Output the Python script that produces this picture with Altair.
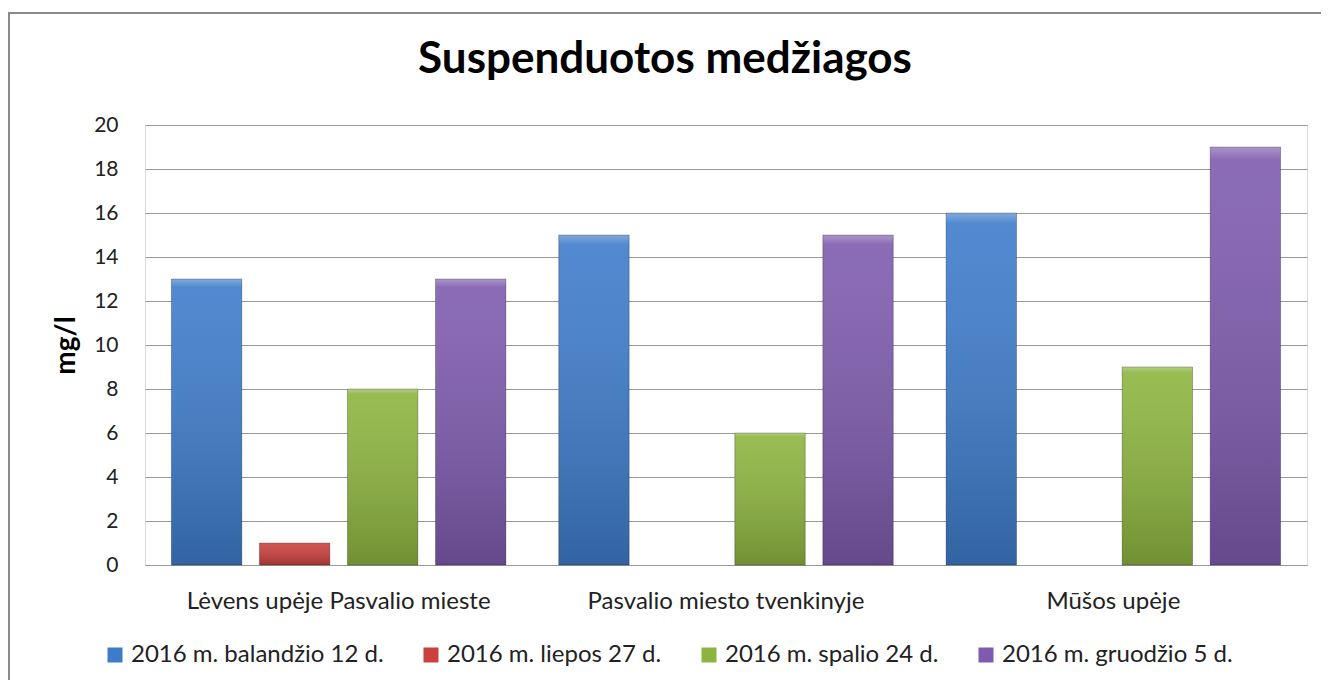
import altair as alt
import pandas as pd

title_text = ["Suspenduotos medžiagos"]
categories = ["Lėvens upėje Pasvalio mieste", "Pasvalio miesto tvenkinyje", "Mūšos upėje"]
series = ["2016 m. balandžio 12 d.", "2016 m. liepos 27 d.", "2016 m. spalio 24 d.", "2016 m. gruodžio 5 d."]
colors = ["#3E7CCB", "#C9403D", "#8DB43F", "#7E5BAE"]
values_apr = [13, 15, 16]
values_jul = [1, None, None]
values_oct = [8, 6, 9]
values_dec = [13, 15, 19]
y_ticks = [0, 2, 4, 6, 8, 10, 12, 14, 16, 18, 20]

rows = []
for s, vals in zip(series, [values_apr, values_jul, values_oct, values_dec]):
    for c, v in zip(categories, vals):
        if v is not None:
            rows.append({"vieta": c, "data": s, "mg": v})
df = pd.DataFrame(rows)

W, H = 1162, 440
PL, PT = 137, 117
PR = 1313 - PL - W
PB = 672 - PT - H
FONT = "Lato"

x_enc = alt.X("vieta:N", sort=categories, title=None,
              scale=alt.Scale(paddingInner=0, paddingOuter=0),
              axis=alt.Axis(labelAngle=0, labelFontSize=24, labelColor="#222",
                            labelPadding=24, ticks=False, domainColor="#999",
                            domainWidth=1, labelFont=FONT, labelLimit=0))
xo_enc = alt.XOffset("data:N", sort=series,
                     scale=alt.Scale(domain=series, paddingInner=0.2, paddingOuter=0.3))
y_enc = alt.Y("mg:Q", scale=alt.Scale(domain=[0, 20]), title="mg/l",
              axis=alt.Axis(values=y_ticks, grid=True, gridColor="#999", gridWidth=1,
                            domain=False, ticks=False, labelFontSize=21, labelColor="#222",
                            labelPadding=27, labelFont=FONT,
                            titleFontSize=28, titleFontWeight="bold", titleColor="#000",
                            titleFont=FONT, titleAngle=-90, titleX=-79, titleY=H / 2,
                            titleAlign="center", titleBaseline="middle"))

base = alt.Chart(df)

bars = base.mark_bar().encode(
    x=x_enc, xOffset=xo_enc, y=y_enc,
    color=alt.Color("data:N", sort=series,
                    scale=alt.Scale(domain=series, range=colors),
                    legend=alt.Legend(title=None, orient="none", direction="horizontal",
                                      legendX=-42, legendY=H + 78, symbolType="square",
                                      symbolSize=225, symbolStrokeWidth=0,
                                      labelFontSize=24, labelColor="#222", labelFont=FONT,
                                      labelOffset=4, columnPadding=35, labelLimit=0)),
)

shade = base.mark_bar(
    fill={"gradient": "linear", "x1": 0, "y1": 0, "x2": 0, "y2": 1,
          "stops": [{"offset": 0, "color": "rgba(255,255,255,0.35)"},
                    {"offset": 0.03, "color": "rgba(255,255,255,0.10)"},
                    {"offset": 1, "color": "rgba(0,0,0,0.20)"}]},
    stroke="rgba(0,0,0,0.25)", strokeWidth=1,
).encode(x=x_enc, xOffset=xo_enc, y=y_enc)

frame = alt.Chart(pd.DataFrame({"a": [0]})).mark_rect(
    fill=None, stroke="#8a8a8a", strokeWidth=2
).encode(x=alt.value(-PL + 1), x2=alt.value(W + PR + 40),
         y=alt.value(-PT + 5), y2=alt.value(H + PB + 40))

title = alt.Chart(pd.DataFrame({"t": title_text})).mark_text(
    fontSize=44, fontWeight="bold", font=FONT, color="#000",
    align="center", baseline="alphabetic"
).encode(text="t:N", x=alt.value(520), y=alt.value(-52))

chart = alt.layer(frame, bars, shade, title).properties(
    width=W, height=H,
    autosize=alt.AutoSizeParams(type="none"),
    padding={"left": PL, "top": PT, "right": PR, "bottom": PB},
).configure_view(stroke=None).configure(font=FONT, background="white")

chart.save("out.html", embed_options={"renderer": "svg", "actions": False})
